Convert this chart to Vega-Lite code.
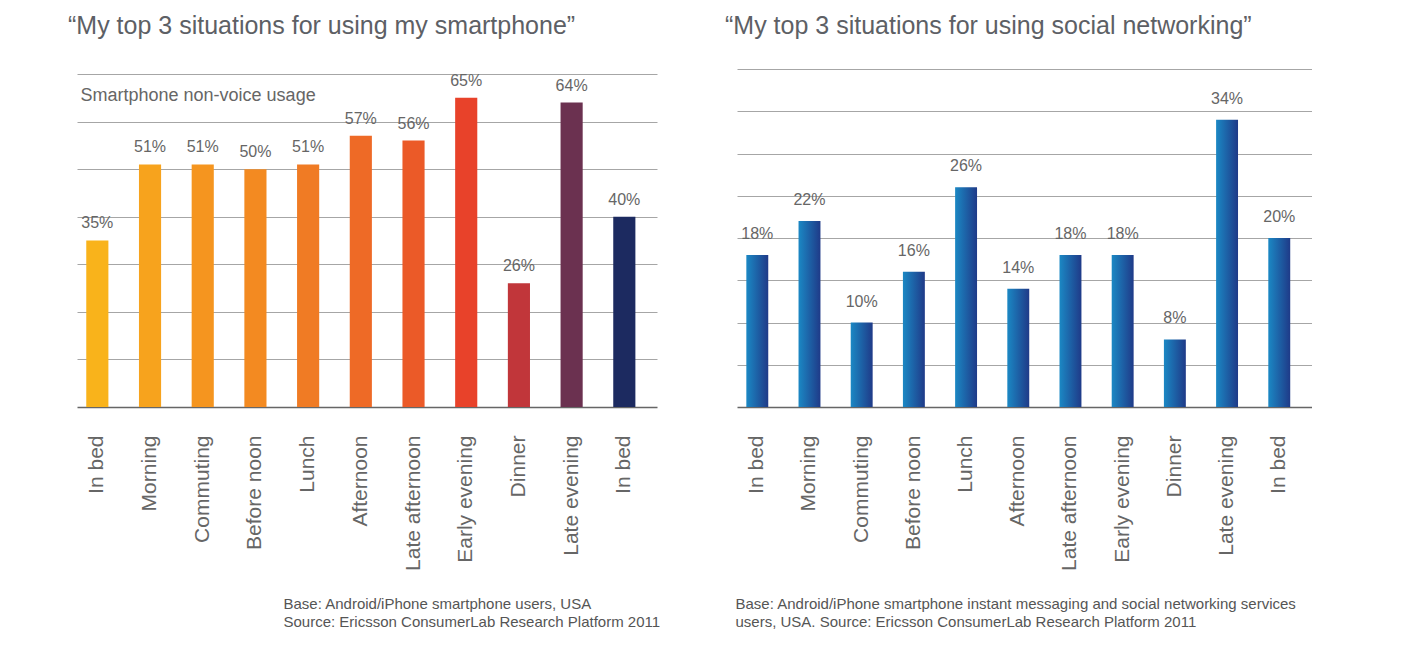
{
  "$schema": "https://vega.github.io/schema/vega-lite/v6.json",
  "background": "white",
  "padding": {"left": 68, "top": 14, "right": 0, "bottom": 0},
  "config": {
    "view": {"stroke": null},
    "font": "Liberation Sans",
    "bar": {"width": {"band": 1}}
  },
  "datasets": {
    "phone": [
      {"slot": "In bed (early)", "share": 0.35},
      {"slot": "Morning", "share": 0.51},
      {"slot": "Commuting", "share": 0.51},
      {"slot": "Before noon", "share": 0.50},
      {"slot": "Lunch", "share": 0.51},
      {"slot": "Afternoon", "share": 0.57},
      {"slot": "Late afternoon", "share": 0.56},
      {"slot": "Early evening", "share": 0.65},
      {"slot": "Dinner", "share": 0.26},
      {"slot": "Late evening", "share": 0.64},
      {"slot": "In bed (late)", "share": 0.40}
    ],
    "social": [
      {"slot": "In bed (early)", "share": 0.18},
      {"slot": "Morning", "share": 0.22},
      {"slot": "Commuting", "share": 0.10},
      {"slot": "Before noon", "share": 0.16},
      {"slot": "Lunch", "share": 0.26},
      {"slot": "Afternoon", "share": 0.14},
      {"slot": "Late afternoon", "share": 0.18},
      {"slot": "Early evening", "share": 0.18},
      {"slot": "Dinner", "share": 0.08},
      {"slot": "Late evening", "share": 0.34},
      {"slot": "In bed (late)", "share": 0.20}
    ]
  },
  "spacing": 65,
  "hconcat": [
    {
      "width": 580,
      "height": 338,
      "data": {"name": "phone"},
      "title": {
        "text": "“My top 3 situations for using my smartphone”",
        "anchor": "start",
        "frame": "group",
        "dx": -9,
        "offset": 30,
        "fontSize": 25,
        "fontWeight": "normal",
        "color": "#5d6065"
      },
      "encoding": {
        "x": {
          "field": "slot",
          "type": "nominal",
          "sort": null,
          "scale": {"paddingInner": 0.58, "paddingOuter": 0.293, "align": 0.3},
          "axis": {
            "title": ["Base: Android/iPhone smartphone users, USA", "Source: Ericsson ConsumerLab Research Platform 2011"],
            "titleX": 206,
            "titleY": 189,
            "titleAlign": "left",
            "titleAnchor": "start",
            "titleBaseline": "top",
            "titleFont": "Liberation Sans Narrow, Liberation Sans",
            "titleFontSize": 15,
            "titleFontWeight": "normal",
            "titleColor": "#555555",
            "titleLineHeight": 18,
            "labelExpr": "split(datum.label, ' (')[0]",
            "labelAngle": -90,
            "labelPadding": 28,
            "labelFontSize": 21,
            "labelColor": "#666666",
            "ticks": false,
            "domainColor": "#666666",
            "domainWidth": 1.5
          }
        },
        "y": {
          "field": "share",
          "type": "quantitative",
          "scale": {"domain": [0, 0.7105], "nice": false},
          "axis": {
            "title": "Smartphone non-voice usage",
            "titleAngle": 0,
            "titleX": 3,
            "titleY": 26,
            "titleAlign": "left",
            "titleAnchor": "start",
            "titleBaseline": "middle",
            "titleFontSize": 18,
            "titleFontWeight": "normal",
            "titleColor": "#666666",
            "values": [0.1, 0.2, 0.3, 0.4, 0.5, 0.6, 0.7],
            "labels": false,
            "ticks": false,
            "domain": false,
            "gridColor": "#a6a6a6",
            "gridWidth": 1
          }
        }
      },
      "layer": [
        {
          "mark": {"type": "bar"},
          "encoding": {
            "color": {
              "field": "slot",
              "type": "nominal",
              "sort": null,
              "legend": null,
              "scale": {
                "domain": ["In bed (early)", "Morning", "Commuting", "Before noon", "Lunch", "Afternoon", "Late afternoon", "Early evening", "Dinner", "Late evening", "In bed (late)"],
                "range": ["#f9b31b", "#f7a31d", "#f5951f", "#f38a21", "#f07b24", "#ee6a26", "#eb5a28", "#e8422a", "#c1363a", "#6b3150", "#1c2a60"]
              }
            }
          }
        },
        {
          "mark": {"type": "text", "dy": -17, "fontSize": 16, "color": "#666666"},
          "encoding": {
            "text": {"field": "share", "type": "quantitative", "format": ".0%"}
          }
        }
      ]
    },
    {
      "width": 575,
      "height": 338,
      "data": {"name": "social"},
      "title": {
        "text": "“My top 3 situations for using social networking”",
        "anchor": "start",
        "frame": "group",
        "dx": -12,
        "offset": 30,
        "fontSize": 25,
        "fontWeight": "normal",
        "color": "#5d6065"
      },
      "encoding": {
        "x": {
          "field": "slot",
          "type": "nominal",
          "sort": null,
          "scale": {"paddingInner": 0.58, "paddingOuter": 0.298, "align": 0.3},
          "axis": {
            "title": ["Base: Android/iPhone smartphone instant messaging and social networking services", "users, USA.  Source: Ericsson ConsumerLab Research Platform 2011"],
            "titleX": -2,
            "titleY": 189,
            "titleAlign": "left",
            "titleAnchor": "start",
            "titleBaseline": "top",
            "titleFont": "Liberation Sans Narrow, Liberation Sans",
            "titleFontSize": 15,
            "titleFontWeight": "normal",
            "titleColor": "#555555",
            "titleLineHeight": 18,
            "labelExpr": "split(datum.label, ' (')[0]",
            "labelAngle": -90,
            "labelPadding": 28,
            "labelFontSize": 21,
            "labelColor": "#666666",
            "ticks": false,
            "domainColor": "#666666",
            "domainWidth": 1.5
          }
        },
        "y": {
          "field": "share",
          "type": "quantitative",
          "scale": {"domain": [0, 0.4], "nice": false},
          "axis": {
            "title": null,
            "values": [0.05, 0.1, 0.15, 0.2, 0.25, 0.3, 0.35, 0.4],
            "labels": false,
            "ticks": false,
            "domain": false,
            "gridColor": "#a6a6a6",
            "gridWidth": 1
          }
        }
      },
      "layer": [
        {
          "mark": {
            "type": "bar",
            "color": {
              "gradient": "linear",
              "x1": 0,
              "x2": 1,
              "y1": 0,
              "y2": 0,
              "stops": [
                {"offset": 0, "color": "#1b88c4"},
                {"offset": 1, "color": "#1f3a88"}
              ]
            }
          }
        },
        {
          "mark": {"type": "text", "dy": -21, "fontSize": 16, "color": "#666666"},
          "encoding": {
            "text": {"field": "share", "type": "quantitative", "format": ".0%"}
          }
        }
      ]
    }
  ]
}
